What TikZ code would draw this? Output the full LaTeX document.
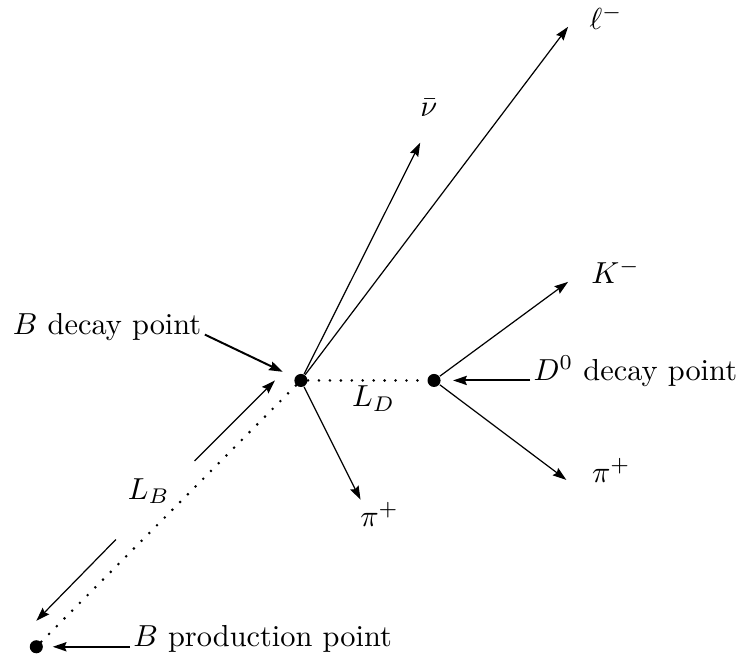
\documentclass[tikz,border=0pt]{standalone}
\usepackage{tikz}
\usetikzlibrary{arrows.meta,positioning}

\begin{document}
\begin{tikzpicture}[
  vertex/.style={circle, fill=black, inner sep=0pt, minimum size=4.3pt},
  track/.style={-{Stealth[length=4.5pt,width=3pt,inset=0.6pt]}, line width=0.4pt},
  pointer/.style={-{Stealth[length=4.5pt,width=3pt,inset=0.6pt]}, line width=0.65pt},
  flight/.style={line width=0.95pt, line cap=round, dash pattern=on 0pt off 3.6pt},
  lbl/.style={inner sep=1pt}
]
  \useasboundingbox (0,0) rectangle (8.57,7.58);

  %% Vertices
  \node[vertex] (prod) at (0.42,0.10) {};
  \node[vertex] (bdec) at (3.48,3.18) {};
  \node[vertex] (ddec) at (5.02,3.18) {};

  %% Flight paths
  \draw[flight] (prod) -- (bdec);
  \draw[flight] (bdec) -- (ddec);

  %% Track ends
  \coordinate (lep)  at (6.57,7.27);
  \coordinate (nu)   at (4.86,5.93);
  \coordinate (kaon) at (6.57,4.32);
  \coordinate (pid)  at (6.55,2.03);
  \coordinate (pib)  at (4.17,1.80);

  %% Tracks
  \draw[track] (bdec) -- (lep);
  \draw[track] (bdec) -- (nu);
  \draw[track] (bdec) -- (pib);
  \draw[track] (ddec) -- (kaon);
  \draw[track] (ddec) -- (pid);

  %% Particle labels
  \node at (7.01,7.38) {$\ell^-$};
  \node at (4.96,6.33) {$\bar\nu$};
  \node at (7.12,4.44) {$K^-$};
  \node at (7.07,2.14) {$\pi^+$};
  \node at (4.39,1.63) {$\pi^+$};

  %% Decay lengths
  \node (ld) at (4.32,2.97) {$L_D$};
  \node (lb) at (1.72,1.90) {$L_B$};
  \coordinate (lbup)  at (2.25,2.25);
  \coordinate (lbupt) at (3.18,3.18);
  \coordinate (lblo)  at (1.34,1.34);
  \coordinate (lblot) at (0.42,0.40);
  \draw[track] (lbup) -- (lbupt);
  \draw[track] (lblo) -- (lblot);

  %% Point labels
  \node[lbl, anchor=base east] (bdlbl) at (2.37,3.71) {$B$ decay point};
  \node[lbl, anchor=base west] (ddlbl) at (6.13,3.18) {$D^0$ decay point};
  \node[lbl, anchor=base west] (prlbl) at (1.50,0.10) {$B$ production point};
  \coordinate (bdtip) at (3.27,3.28);
  \coordinate (ddtip) at (5.24,3.18);
  \coordinate (prtip) at (0.61,0.10);
  \draw[pointer] (bdlbl.base east) -- (bdtip);
  \draw[pointer] (ddlbl.base west) -- (ddtip);
  \draw[pointer] (prlbl.base west) -- (prtip);
\end{tikzpicture}
\end{document}
